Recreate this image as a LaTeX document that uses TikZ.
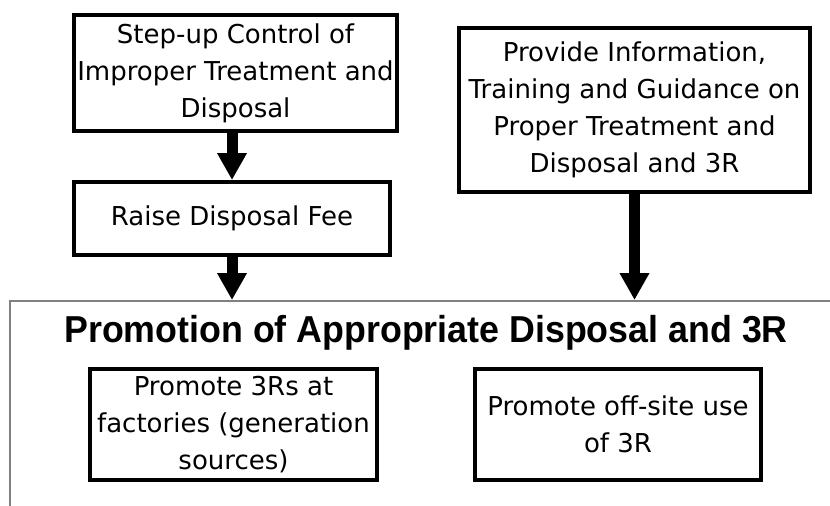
\documentclass[tikz,border=0pt]{standalone}
\usepackage{fontspec}
\setmainfont{DejaVu Sans}
\newfontfamily\headfont{Liberation Sans}
\usetikzlibrary{arrows.meta,calc}

\tikzset{
  stepbox/.style={draw=black, line width=4pt, fill=white, inner sep=0pt,
    align=center, font=\fontsize{26}{37}\selectfont},
  bigarrow/.style={line width=11pt, -{Triangle[width=28pt,length=27pt]}},
  outerframe/.style={draw=black!50, line width=1.5pt, inner sep=0pt},
  titletext/.style={font=\headfont\fontsize{37.5}{40}\selectfont\bfseries, inner sep=0pt}
}

\begin{document}
\begin{tikzpicture}[x=1pt, y=-1pt]
  \useasboundingbox (0,0) rectangle (830,506);
  \clip (0,0) rectangle (830,506);
  \fill[white] (0,0) rectangle (830,506);

  % enclosing frame, open past the right and bottom edges
  \node[outerframe, anchor=north west, minimum width=860pt, minimum height=260pt] (frame) at (9,300) {};

  % upper boxes
  \node[stepbox, minimum width=323pt, minimum height=116pt] (b1) at (235.5,73)
    {Step-up Control of\\Improper Treatment and\\Disposal};
  \node[stepbox, minimum width=316pt, minimum height=73pt] (b2) at (232,218.5)
    {Raise Disposal Fee};
  \node[stepbox, minimum width=351pt, minimum height=164pt] (b3) at (634.5,110)
    {Provide Information,\\Training and Guidance on\\Proper Treatment and\\Disposal and 3R};

  % title of the frame
  \node[titletext, anchor=base] (title) at (426,342)
    {\scalebox{0.954}[1]{Promotion of Appropriate Disposal and 3R}};

  % lower boxes
  \node[stepbox, minimum width=287pt, minimum height=111pt] (b4) at (233.5,424.5)
    {Promote 3Rs at\\factories (generation\\sources)};
  \node[stepbox, minimum width=286pt, minimum height=111pt] (b5) at (618,424.5)
    {Promote off-site use\\of 3R};

  % connectors
  \draw[bigarrow] (b2.north |- b1.south) -- (b2.north);
  \draw[bigarrow] (b2.south) -- (b2.south |- frame.north);
  \draw[bigarrow] (b3.south) -- (b3.south |- frame.north);
\end{tikzpicture}
\end{document}
